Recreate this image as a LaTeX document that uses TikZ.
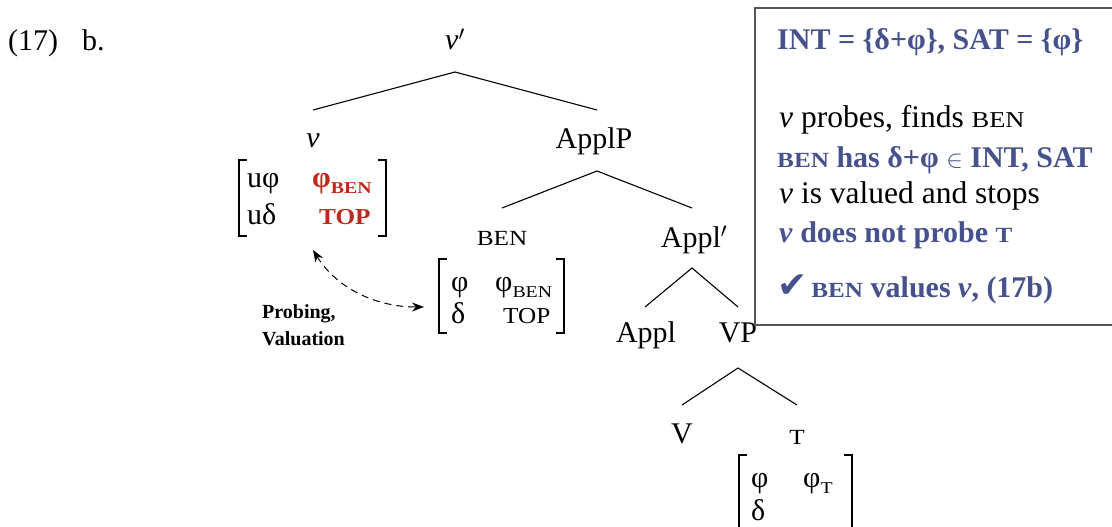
\documentclass[tikz,border=0pt]{standalone}
\usepackage{fontspec}
\setmainfont{Liberation Serif}
\newfontfamily\symfont{DejaVu Sans}
\usepackage{graphicx}
\usetikzlibrary{arrows.meta}
\definecolor{nblue}{HTML}{46528E}
\definecolor{nred}{HTML}{C0271D}
\definecolor{boxgray}{HTML}{555555}
\newcommand{\smc}[1]{\scalebox{0.84}[0.72]{#1}}
\newcommand{\smcb}[1]{\scalebox{0.84}[0.76]{#1}}
\newcommand{\subsc}[1]{\raisebox{-0.2em}{\scalebox{0.66}[0.55]{#1}}}
\begin{document}
\begin{tikzpicture}[x=1pt,y=-1pt,
  lbl/.style={anchor=base,inner sep=0,font=\fontsize{30}{34}\selectfont},
  ent/.style={anchor=base west,inner sep=0,font=\fontsize{30}{34}\selectfont},
  redent/.style={ent,text=nred,font=\bfseries\fontsize{30}{34}\selectfont},
  btxt/.style={anchor=base west,inner sep=0,font=\fontsize{31.5}{36}\selectfont},
  bblue/.style={btxt,text=nblue,font=\bfseries\fontsize{30}{36}\selectfont},
  edge/.style={line width=1.1pt},
  brk/.style={line width=2.3pt},
  probe/.style={dashed,dash pattern=on 7pt off 5pt,line width=1pt,
    {Stealth[length=12pt,width=9pt]}-{Stealth[length=12pt,width=9pt]}},
  frame/.style={draw=boxgray,line width=1.3pt}
]
\useasboundingbox (0,0) rectangle (1112,527);
\fill[white] (0,0) rectangle (1112,527);

% example number
\node[lbl,anchor=base west] (exnum) at (8,51) {(17)};
\node[lbl,anchor=base west] (exb) at (82,51) {b.};

% tree labels
\node[lbl] (vbar) at (455,50) {\textit{v}$'$};
\node[lbl] (v) at (313,147) {\textit{v}};
\node[lbl] (applp) at (594,148) {ApplP};
\node[lbl] (ben) at (502,245) {\smc{BEN}};
\node[lbl] (applbar) at (694,247) {Appl$'$};
\node[lbl] (appl) at (646,342) {Appl};
\node[lbl] (vp) at (738,342) {VP};
\node[lbl] (V) at (682,443) {V};
\node[lbl] (T) at (797,444) {\smc{T}};

% branch end points
\coordinate (vbar-b) at (455,72);
\coordinate (v-t) at (313,110);
\coordinate (applp-t) at (597,110);
\coordinate (applp-b) at (597,171);
\coordinate (ben-t) at (502,208);
\coordinate (applbar-t) at (692,208);
\coordinate (applbar-b) at (692,268);
\coordinate (appl-t) at (645,307);
\coordinate (vp-t) at (738,307);
\coordinate (vp-b) at (738,368);
\coordinate (V-t) at (682,405);
\coordinate (T-t) at (797,405);

\draw[edge] (v-t) -- (vbar-b) -- (applp-t);
\draw[edge] (ben-t) -- (applp-b) -- (applbar-t);
\draw[edge] (appl-t) -- (applbar-b) -- (vp-t);
\draw[edge] (V-t) -- (vp-b) -- (T-t);

% feature matrix of v
\draw[brk] (247,160) -- (239,160) -- (239,236) -- (247,236);
\draw[brk] (378,160) -- (386,160) -- (386,236) -- (378,236);
\node[ent] (vm11) at (247,187) {uφ};
\node[redent] (vm12) at (312,187) {φ\subsc{BEN}};
\node[ent] (vm21) at (247,224) {uδ};
\node[redent] (vm22) at (319,224) {\smcb{TOP}};

% feature matrix of BEN
\draw[brk] (447,259) -- (439,259) -- (439,333) -- (447,333);
\draw[brk] (556,259) -- (564,259) -- (564,333) -- (556,333);
\node[ent] (bm11) at (451,291) {φ};
\node[ent] (bm12) at (495,291) {φ\subsc{BEN}};
\node[ent] (bm21) at (451,323) {δ};
\node[ent] (bm22) at (503,323) {\smcb{TOP}};

% feature matrix of T
\draw[brk] (747,455) -- (739,455) -- (739,540);
\draw[brk] (844,455) -- (852,455) -- (852,540);
\node[ent] (tm11) at (751,487) {φ};
\node[ent] (tm12) at (803,487) {φ\subsc{T}};
\node[ent] (tm21) at (751,520) {δ};

% probing arrow
\coordinate (pa) at (313,250);
\coordinate (pb) at (424,307);
\draw[probe] (pa) .. controls (338,290) and (378,307) .. (pb);
\node[anchor=base west,inner sep=0,align=left,font=\bfseries\fontsize{20}{27}\selectfont] (probelbl) at (262,345) {Probing,\\Valuation};

% explanation box
\draw[frame] (755,8) rectangle (1125,325);
\node[bblue] (b1) at (777,50) {INT = \{δ+φ\}, SAT = \{φ\}};
\node[btxt] (b2) at (779,128) {\textit{v} probes, finds \smc{BEN}};
\node[bblue] (b3) at (777,167) {\smc{BEN} has δ+φ $\in$ INT, SAT};
\node[btxt] (b4) at (779,203) {\textit{v} is valued and stops};
\node[bblue] (b5) at (779,242) {\textit{v} does not probe \smc{T}};
\node[bblue] (b6) at (777,297) {{\symfont\fontsize{36}{36}\selectfont ✔}\hspace{4pt}\smc{BEN} values \textit{v}, (17b)};
\end{tikzpicture}
\end{document}
